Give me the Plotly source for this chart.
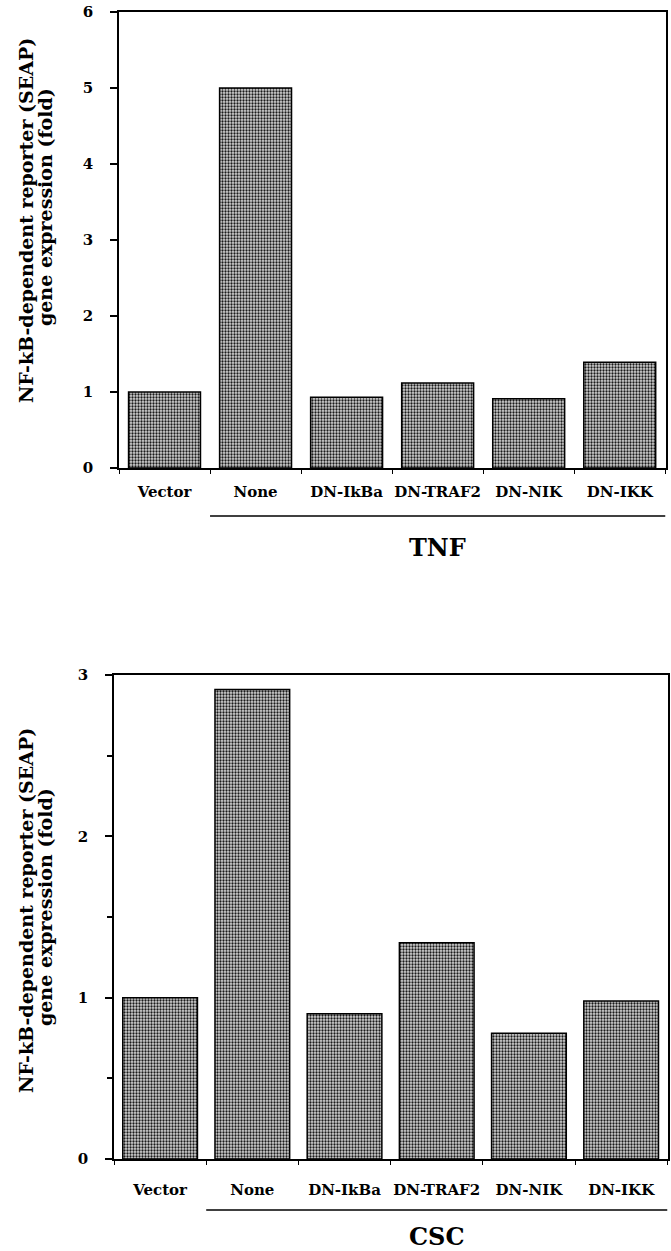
import plotly.graph_objects as go

categories = ["Vector", "None", "DN-IkBa", "DN-TRAF2", "DN-NIK", "DN-IKK"]
tnf_values = [1.0, 5.0, 0.93, 1.12, 0.91, 1.39]
csc_values = [1.0, 2.91, 0.90, 1.34, 0.78, 0.98]
group_labels = ["TNF", "CSC"]
ytitle_line1 = "NF-kB-dependent reporter (SEAP)"
ytitle_line2 = "gene expression (fold)"

W, H = 671, 1251
FONT = "DejaVu Serif"

def px(x):
    return x / W

def py(y):
    return 1 - y / H

fig = go.Figure()

bar_style = dict(
    color="#c8c8c8",
    line=dict(color="black", width=1.5),
    pattern=dict(shape=".", fgcolor="#1a1a1a", bgcolor="#d4d4d4", size=3, solidity=0.45),
)

fig.add_trace(go.Bar(x=categories, y=tnf_values, width=0.79, marker=bar_style,
                     xaxis="x", yaxis="y", showlegend=False))
fig.add_trace(go.Bar(x=categories, y=csc_values, width=0.81, marker=bar_style,
                     xaxis="x2", yaxis="y2", showlegend=False))

tickfont = dict(family=FONT, size=15, color="black", weight="bold")
catfont = dict(family=FONT, size=15, color="black", weight="bold")

common_x = dict(showline=True, linecolor="black", linewidth=1.5, mirror=True,
                ticks="outside", ticklen=4, tickcolor="black", tickson="boundaries",
                tickangle=0, tickfont=catfont, showgrid=False, zeroline=False,
                fixedrange=True, automargin=False)
common_y = dict(showline=True, linecolor="black", linewidth=1.5, mirror=True,
                ticks="outside", ticklen=7, tickcolor="black", tickwidth=1.5,
                tickfont=tickfont, showgrid=False, zeroline=False, fixedrange=True,
                automargin=False)

fig.update_layout(
    template="none",
    width=W, height=H,
    margin=dict(l=0, r=0, t=0, b=0, pad=0),
    paper_bgcolor="white", plot_bgcolor="white",
    bargap=0.2,
    xaxis=dict(domain=[px(119), px(666)], anchor="y", ticklabelstandoff=9, **common_x),
    yaxis=dict(domain=[py(468), py(12)], anchor="x", range=[0, 6], dtick=1,
               ticklabelstandoff=14, **common_y),
    xaxis2=dict(domain=[px(114), px(668)], anchor="y2", ticklabelstandoff=16, **common_x),
    yaxis2=dict(domain=[py(1159), py(675)], anchor="x2", range=[0, 3], dtick=1,
                ticklabelstandoff=14,
                minor=dict(dtick=0.5, ticks="outside", ticklen=5, tickcolor="black", tickwidth=1.5),
                **common_y),
)

shapes = []
annotations = []
for xref, ly, ty, label in [("x", 516, 547, group_labels[0]), ("x2", 1210, 1236, group_labels[1])]:
    shapes.append(dict(type="line", xref=xref, yref="paper", x0=0.5, x1=5.5,
                       y0=py(ly), y1=py(ly), line=dict(color="black", width=1.5)))
    annotations.append(dict(text=label, xref=xref, yref="paper", x=3.0, y=py(ty),
                            showarrow=False, xanchor="center", yanchor="middle",
                            font=dict(family=FONT, size=24, color="black", weight="bold")))

for c1, c2 in [(221, 207), (911, 907)]:
    annotations.append(dict(text=ytitle_line1, xref="paper", yref="paper",
                            x=px(26), y=py(c1), textangle=-90, showarrow=False,
                            xanchor="center", yanchor="middle",
                            font=dict(family=FONT, size=19, color="black", weight="bold")))
    annotations.append(dict(text=ytitle_line2, xref="paper", yref="paper",
                            x=px(45), y=py(c2), textangle=-90, showarrow=False,
                            xanchor="center", yanchor="middle",
                            font=dict(family=FONT, size=19, color="black", weight="bold")))

fig.update_layout(shapes=shapes, annotations=annotations)

fig.write_html("out.html", config={"displayModeBar": False},
               post_script="document.body.style.margin='0';document.body.style.overflow='hidden';")
